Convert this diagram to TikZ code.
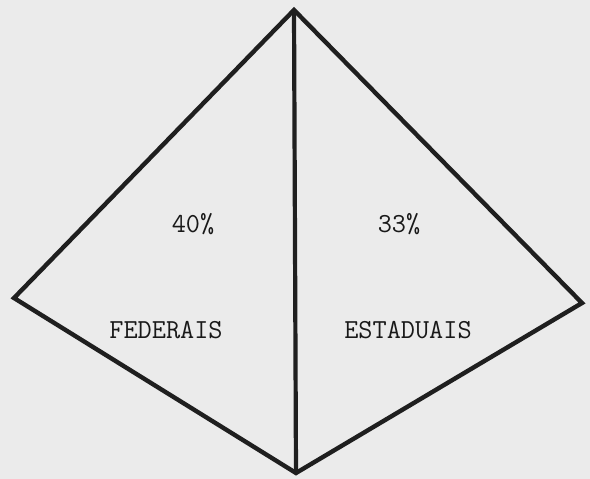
\documentclass[tikz,border=0pt]{standalone}
\begin{document}
\begin{tikzpicture}[x=1pt,y=-1pt,
  edge/.style={draw=black!88, line width=4.4pt, line join=miter},
  lbl/.style={font=\fontsize{27.5}{30}\selectfont\ttfamily, text=black!90, inner sep=0pt, anchor=base}]
\fill[black!8] (0,0) rectangle (590,479);
\useasboundingbox (0,0) rectangle (590,479);
\coordinate (T) at (294,10);
\coordinate (L) at (14,298);
\coordinate (B) at (296,473);
\coordinate (R) at (582,303);
\draw[edge] (T) -- (L) -- (B) -- (R) -- cycle;
\draw[edge, line width=4.2pt] (T) -- (B);
\node[lbl] (p40) at (193,232) {40\%};
\node[lbl] (p33) at (399,232) {33\%};
\node[lbl] (fed) at (166,338) {FEDERAIS};
\node[lbl] (est) at (408,338) {ESTADUAIS};
\end{tikzpicture}
\end{document}
